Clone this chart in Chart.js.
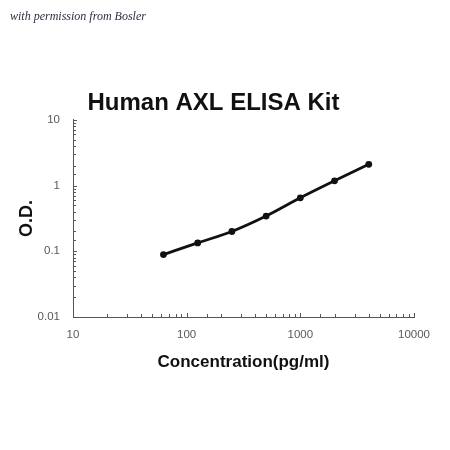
<!DOCTYPE html>
<html>
<head>
<meta charset="utf-8">
<title>Human AXL ELISA Kit</title>
<script src="https://cdn.jsdelivr.net/npm/chart.js@4.4.1/dist/chart.umd.min.js"></script>
<style>
  body { margin: 0; background: #fff; }
  #wrap { position: relative; width: 450px; height: 450px; }
  #note {
    position: absolute; left: 10px; top: 9px;
    font-family: "Liberation Serif", serif; font-style: italic;
    font-size: 12px; color: #2a3040;
  }
</style>
</head>
<body>
<div id="wrap">
  <canvas id="mycanvas" width="450" height="450"></canvas>
  <div id="note">with permission from Bosler</div>
</div>
<script>
// standard curve
var concentration = [62.5, 125, 250, 500, 1000, 2000, 4000];
var od = [0.089, 0.134, 0.20, 0.343, 0.65, 1.18, 2.1];

var xTickLabels = ["10", "100", "1000", "10000"];
var yTickLabels = ["0.01", "0.1", "1", "10"];

function decadeIndex(v, min) {
	var e = Math.log10(v / min);
	var r = Math.round(e);
	return Math.abs(e - r) < 1e-6 ? r : -1;
}

// short tick marks pointing into the plot
var innerTicks = {
	id: 'innerTicks',
	beforeDatasetsDraw: function(chart) {
		var ctx = chart.ctx;
		var xs = chart.scales.x, ys = chart.scales.y;
		ctx.save();
		ctx.strokeStyle = "#555";
		ctx.lineWidth = 1;
		ctx.beginPath();
		xs.ticks.forEach(function(t) {
			var p = Math.round(xs.getPixelForValue(t.value)) + 0.5;
			var len = decadeIndex(t.value, 10) >= 0 ? 4 : 3;
			ctx.moveTo(p, xs.top);
			ctx.lineTo(p, xs.top - len);
		});
		ys.ticks.forEach(function(t) {
			var p = Math.round(ys.getPixelForValue(t.value)) + 0.5;
			var len = decadeIndex(t.value, 0.01) >= 0 ? 4 : 3;
			ctx.moveTo(ys.right, p);
			ctx.lineTo(ys.right + len, p);
		});
		ctx.stroke();
		ctx.restore();
	}
};

var points = [];
for (var i in concentration) {
	points.push({ x: concentration[i], y: od[i] });
}

var chartdata = {
	datasets: [
		{
			label: "O.D.",
			data: points,
			showLine: true,
			cubicInterpolationMode: 'monotone',
			borderColor: "#111",
			borderWidth: 2.8,
			backgroundColor: "#111",
			pointRadius: 3.4,
			pointBackgroundColor: "#111",
			pointBorderWidth: 0
		}
	]
};

var ctx = document.getElementById("mycanvas");

var LogChart = new Chart(ctx, {
	type: 'scatter',
	data: chartdata,
	plugins: [innerTicks],
	options: {
		responsive: false,
		animation: false,
		layout: { padding: { left: 13, right: 36, top: 89, bottom: 73 } },
		plugins: {
			legend: { display: false },
			tooltip: { enabled: false },
			title: {
				display: true,
				text: "Human AXL ELISA Kit",
				color: "#111",
				font: { family: "Liberation Sans, Arial, sans-serif", size: 24, weight: "bold" },
				padding: { top: 0, bottom: 2 }
			}
		},
		scales: {
			x: {
				type: 'logarithmic',
				min: 10,
				max: 10000,
				afterFit: function(s) { s.height = 60; },
				grid: { drawOnChartArea: false, drawTicks: false },
				border: { color: "#555", width: 1 },
				ticks: {
					autoSkip: false,
					maxRotation: 0,
					padding: 11,
					color: "#595959",
					font: { family: "Liberation Sans, Arial, sans-serif", size: 11.5 },
					callback: function(v) {
						var k = decadeIndex(v, 10);
						return k >= 0 ? xTickLabels[k] : "";
					}
				},
				title: {
					display: true,
					text: "Concentration(pg/ml)",
					color: "#111",
					font: { family: "Liberation Sans, Arial, sans-serif", size: 17, weight: "bold" },
					padding: { top: 0, bottom: 4 }
				}
			},
			y: {
				type: 'logarithmic',
				min: 0.01,
				max: 10,
				afterFit: function(s) { s.width = 60; },
				grid: { drawOnChartArea: false, drawTicks: false },
				border: { color: "#555", width: 1 },
				ticks: {
					autoSkip: false,
					padding: 13,
					color: "#595959",
					font: { family: "Liberation Sans, Arial, sans-serif", size: 11.5 },
					callback: function(v) {
						var k = decadeIndex(v, 0.01);
						return k >= 0 ? yTickLabels[k] : "";
					}
				},
				title: {
					display: true,
					text: "O.D.",
					color: "#111",
					font: { family: "Liberation Sans, Arial, sans-serif", size: 18, weight: "bold" },
					padding: { top: 3, bottom: 0 }
				}
			}
		}
	}
});
</script>
</body>
</html>
